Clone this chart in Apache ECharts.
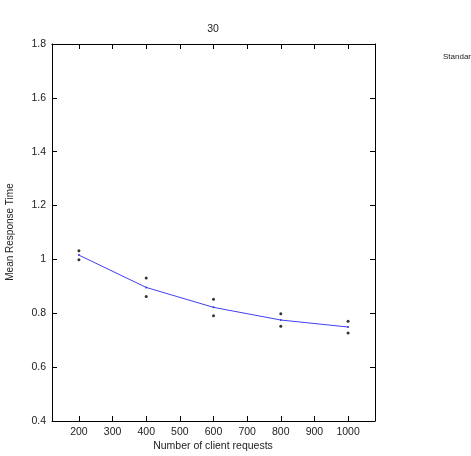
<!DOCTYPE html>
<html>
<head>
<meta charset="utf-8">
<script src="https://cdn.jsdelivr.net/npm/echarts@6/dist/echarts.min.js"></script>
<style>
  html, body { margin: 0; padding: 0; background: #fff; }
  #chart { width: 471px; height: 456px; }
</style>
</head>
<body>
<div id="chart"></div>
<script>
// 요청 수 (x축)
const requests = [200, 400, 600, 800, 1000];
// 평균 응답 시간 (선)
const meanTime = [1.016, 0.896, 0.822, 0.775, 0.749];
// 표준편차 위/아래 점
const upperDots = [1.032, 0.931, 0.852, 0.798, 0.770];
const lowerDots = [0.999, 0.862, 0.791, 0.752, 0.727];
// 눈금
const xTicks = [200, 300, 400, 500, 600, 700, 800, 900, 1000];
const yTicks = [0.4, 0.6, 0.8, 1, 1.2, 1.4, 1.6, 1.8];

function pairs(xs, ys) {
  return xs.map(function (x, i) { return [x, ys[i]]; });
}

const font = 'Liberation Sans, Arial, sans-serif';

function xAxisDef(pos, labels) {
  return {
    type: 'value',
    position: pos,
    min: 120,
    max: 1080,
    axisLine: { show: true, onZero: false, lineStyle: { color: '#000', width: 1 } },
    axisTick: { show: true, inside: true, length: 5, customValues: xTicks, lineStyle: { color: '#000' } },
    axisLabel: {
      show: labels, customValues: xTicks, color: '#222', fontFamily: font, fontSize: 10.5, margin: 6,
      formatter: function (v) { return String(v); }
    },
    splitLine: { show: false }
  };
}

function yAxisDef(pos, labels) {
  return {
    type: 'value',
    position: pos,
    min: 0.4,
    max: 1.8,
    interval: 0.2,
    axisLine: { show: true, onZero: false, lineStyle: { color: '#000', width: 1 } },
    axisTick: { show: true, inside: true, length: 5, lineStyle: { color: '#000' } },
    axisLabel: {
      show: labels, color: '#222', fontFamily: font, fontSize: 10.5, margin: 6,
      formatter: function (v) { return String(Math.round(v * 10) / 10); }
    },
    splitLine: { show: false }
  };
}

var myChart = echarts.init(document.getElementById('chart'), null, { renderer: 'canvas' });
myChart.setOption({
  animation: false,
  backgroundColor: '#fff',
  grid: { left: 52, right: 96, top: 44, bottom: 35 },
  xAxis: [xAxisDef('bottom', true), xAxisDef('top', false)],
  yAxis: [yAxisDef('left', true), yAxisDef('right', false)],
  graphic: [
    {
      type: 'text', x: 213, y: 29,
      style: { text: '30', fontFamily: font, fontSize: 10.5, fill: '#222', align: 'center', verticalAlign: 'middle' }
    },
    {
      type: 'text', x: 10, y: 232, rotation: Math.PI / 2,
      style: { text: 'Mean Response Time', fontFamily: font, fontSize: 10, fill: '#222', align: 'center', verticalAlign: 'middle' }
    },
    {
      type: 'text', x: 213, y: 446,
      style: { text: 'Number of client requests', fontFamily: font, fontSize: 10.5, fill: '#222', align: 'center', verticalAlign: 'middle' }
    },
    {
      type: 'text', x: 443, y: 57,
      style: { text: 'Standard deviation', fontFamily: font, fontSize: 8, fill: '#222', verticalAlign: 'middle' }
    }
  ],
  series: [
    {
      name: 'mean',
      type: 'line',
      data: pairs(requests, meanTime),
      symbol: 'circle',
      symbolSize: 2,
      itemStyle: { color: '#3a3ae6' },
      lineStyle: { color: '#4040ee', width: 1 }
    },
    {
      name: 'upper',
      type: 'scatter',
      data: pairs(requests, upperDots),
      symbolSize: 3,
      itemStyle: { color: '#000' }
    },
    {
      name: 'lower',
      type: 'scatter',
      data: pairs(requests, lowerDots),
      symbolSize: 3,
      itemStyle: { color: '#000' }
    }
  ]
});
</script>
</body>
</html>
